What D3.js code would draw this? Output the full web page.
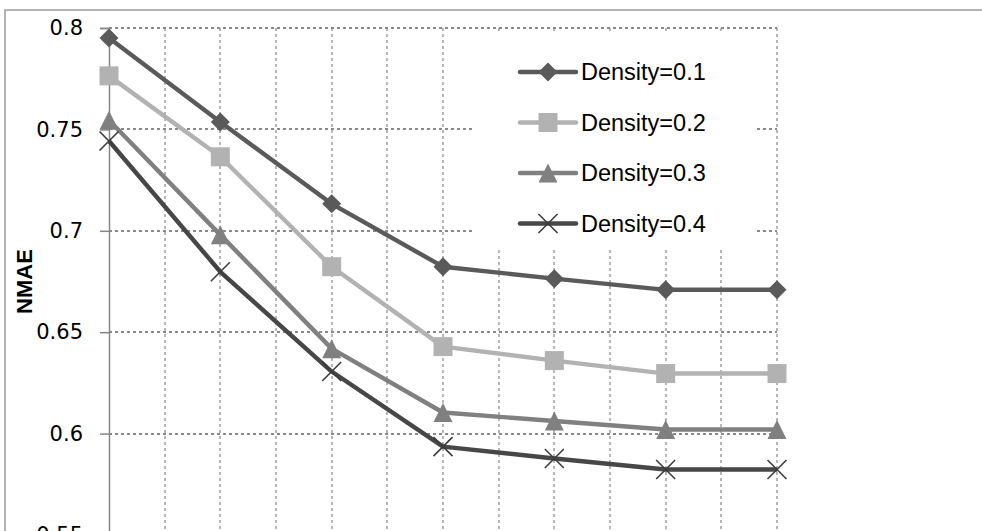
<!DOCTYPE html>
<html>
<head>
<meta charset="utf-8">
<script src="https://cdn.jsdelivr.net/npm/d3@7"></script>
<style>
  html, body { margin: 0; padding: 0; background: #fff; overflow: hidden; }
</style>
</head>
<body>
<svg id="chart" width="982" height="531"></svg>
<script>
"use strict"

// x positions of the seven measurements (axis labels are cropped off)
const xValues = [1, 2, 3, 4, 5, 6, 7]
const yTicks = [0.55, 0.6, 0.65, 0.7, 0.75, 0.8]

const seriesNames = ["Density=0.1", "Density=0.2", "Density=0.3", "Density=0.4"]
const density01 = [0.7951, 0.7537, 0.7133, 0.6823, 0.6764, 0.6709, 0.6709]
const density02 = [0.7764, 0.7365, 0.6823, 0.6429, 0.6360, 0.6296, 0.6296]
const density03 = [0.7545, 0.6980, 0.6419, 0.6104, 0.6062, 0.6020, 0.6020]
const density04 = [0.7443, 0.6798, 0.6306, 0.5936, 0.5877, 0.5823, 0.5823]

const seriesValues = [density01, density02, density03, density04]
const seriesColor = ["#5a5a5a", "#b2b2b2", "#808080", "#474747"]
const seriesMarker = ["diamond", "square", "triangle", "cross"]

const svg = d3.select("#chart")

const margin = {left: 109, top: 28, right: 205, bottom: 0}
const plotW = 777 - margin.left
const plotH = 535 - margin.top

// outer chart frame
svg.append("rect")
    .attr("x", 5).attr("y", 10)
    .attr("width", 1000).attr("height", 600)
    .attr("fill", "#fff")
    .attr("stroke", "#9a9a9a")
    .attr("stroke-width", 1.5)

const x = d3.scaleLinear().domain([1, 7]).range([margin.left, margin.left + plotW])
const y = d3.scaleLinear().domain([0.55, 0.8]).range([margin.top + plotH, margin.top])

// vertical grid, every half step
svg.append("g")
    .selectAll("line")
    .data(d3.range(1.5, 7.01, 0.5))
    .join("line")
    .attr("x1", d => Math.round(x(d))).attr("x2", d => Math.round(x(d)))
    .attr("y1", y(0.8)).attr("y2", y(0.55))
    .attr("stroke", "#b6b6b6")
    .attr("stroke-width", 2)
    .attr("stroke-dasharray", "3,3")

// horizontal grid
svg.append("g")
    .selectAll("line")
    .data(yTicks.filter(d => d > 0.55))
    .join("line")
    .attr("x1", x(1)).attr("x2", x(7))
    .attr("y1", d => Math.round(y(d))).attr("y2", d => Math.round(y(d)))
    .attr("stroke", "#888")
    .attr("stroke-width", 2)
    .attr("stroke-dasharray", "3,3")

// y axis
const yAxis = d3.axisLeft(y).tickValues(yTicks).tickSize(9).tickPadding(17).tickFormat(d => d3.format("")(+d.toFixed(2)))
const gy = svg.append("g")
    .attr("transform", "translate(" + margin.left + ",0)")
    .call(yAxis)
gy.select(".domain").attr("stroke", "#868686").attr("stroke-width", 1.5)
gy.selectAll(".tick line").attr("stroke", "#868686").attr("stroke-width", 1.5)
gy.selectAll(".tick text")
    .attr("fill", "#000")
    .style("font-family", "'DejaVu Sans', sans-serif")
    .style("font-size", "21px")

svg.append("text")
    .attr("transform", "translate(" + 32 + "," + (margin.top + plotH / 2) + ") rotate(-90)")
    .attr("text-anchor", "middle")
    .style("font-family", "'Liberation Sans', Arial, sans-serif")
    .style("font-weight", "bold")
    .style("font-size", "22px")
    .text("NMAE")

function markerPath(kind, s) {
    const h = s / 2
    if (kind === "diamond") return "M0," + (-h) + "L" + h + ",0L0," + h + "L" + (-h) + ",0Z"
    if (kind === "square") return "M" + (-h) + "," + (-h) + "H" + h + "V" + h + "H" + (-h) + "Z"
    if (kind === "triangle") return "M0," + (-h) + "L" + h + "," + h + "L" + (-h) + "," + h + "Z"
    return "M" + (-h) + "," + (-h) + "L" + h + "," + h + "M" + h + "," + (-h) + "L" + (-h) + "," + h
}

function drawMarker(g, kind, color) {
    if (kind === "cross") {
        g.append("path").attr("d", markerPath(kind, 19))
            .attr("stroke", "#3c3c3c").attr("stroke-width", 1.6).attr("fill", "none")
    } else {
        g.append("path").attr("d", markerPath(kind, 19))
            .attr("fill", color)
    }
}

const line = d3.line()
    .x((d, i) => x(xValues[i]))
    .y(d => y(d))

// legend background (covers the grid)
const legX = 472, legY = 31
svg.append("rect")
    .attr("x", legX).attr("y", legY)
    .attr("width", 285).attr("height", 216)
    .attr("fill", "#fff")

seriesValues.forEach((vals, s) => {
    svg.append("path")
        .datum(vals)
        .attr("d", line)
        .attr("fill", "none")
        .attr("stroke", seriesColor[s])
        .attr("stroke-width", 4.4)
        .attr("stroke-linejoin", "round")

    vals.forEach((v, i) => {
        const g = svg.append("g").attr("transform", "translate(" + x(xValues[i]) + "," + y(v) + ")")
        drawMarker(g, seriesMarker[s], seriesColor[s])
    })
})

// legend entries
seriesNames.forEach((name, s) => {
    const cy = 72 + s * 50.5
    const g = svg.append("g").attr("transform", "translate(0," + cy + ")")
    g.append("line")
        .attr("x1", 520).attr("x2", 576)
        .attr("y1", 0).attr("y2", 0)
        .attr("stroke", seriesColor[s])
        .attr("stroke-width", 4.5)
        .attr("stroke-linecap", "round")
    const m = g.append("g").attr("transform", "translate(548,0)")
    drawMarker(m, seriesMarker[s], seriesColor[s])
    g.append("text")
        .attr("x", 581)
        .attr("y", 0)
        .attr("dy", "0.35em")
        .style("font-family", "'Liberation Sans', Arial, sans-serif")
        .style("font-size", "23.5px")
        .attr("fill", "#000")
        .text(name)
})
</script>
</body>
</html>
